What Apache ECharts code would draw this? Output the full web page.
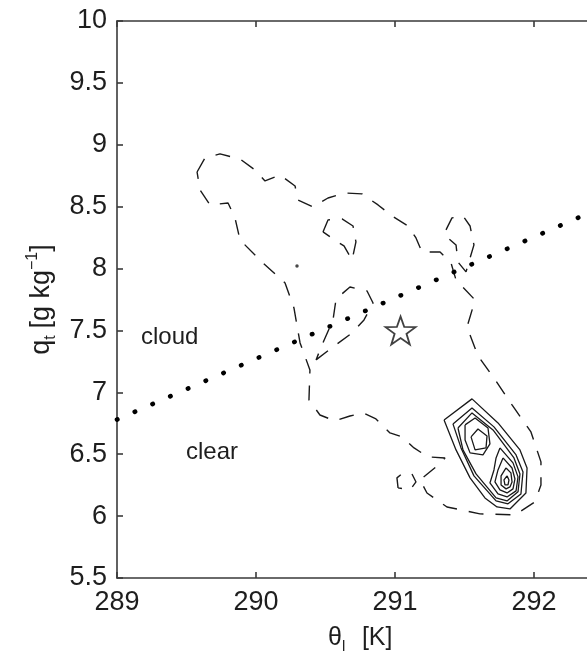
<!DOCTYPE html>
<html><head><meta charset="utf-8">
<script src="https://cdn.jsdelivr.net/npm/echarts@6/dist/echarts.min.js"></script>
<style>html,body{margin:0;padding:0;background:#fff}#c{width:587px;height:654px}</style>
</head><body><div id="c"></div>
<script>
// axis ranges and ticks
const thetaLimits = [289, 292.5];
const qLimits = [5.5, 10];
const thetaTickStep = 1;
const qTickStep = 0.5;

// dotted mixing line (theta_l, q_t)
const mixingLine = [[289.0, 6.78], [292.5, 8.50]];
// star marker
const starPoint = [[291.04, 7.50]];
const strayDot = [[290.295, 8.021]];

// dashed contours
const dashedOuter = [[289.576,8.780],[289.633,8.893],[289.741,8.926],[289.885,8.885],[289.993,8.796],[290.065,8.708],[290.173,8.756],[290.281,8.667],[290.302,8.554],[290.410,8.498],[290.518,8.570],[290.640,8.611],[290.763,8.603],[290.878,8.514],[290.978,8.425],[291.094,8.344],[291.151,8.247],[291.194,8.134],[291.324,8.134],[291.403,8.045],[291.439,7.908],[291.576,7.746],[291.518,7.528],[291.597,7.294],[291.712,7.116],[291.842,6.898],[291.978,6.680],[292.050,6.438],[292.050,6.252],[292.007,6.115],[291.863,6.010],[291.611,6.018],[291.374,6.074],[291.230,6.187],[291.180,6.292],[291.295,6.397],[291.360,6.470],[291.237,6.478],[291.137,6.551],[291.050,6.640],[290.964,6.672],[290.863,6.785],[290.770,6.834],[290.676,6.809],[290.568,6.769],[290.460,6.817],[290.381,6.939],[290.388,7.181],[290.317,7.399],[290.273,7.682],[290.209,7.884],[290.043,8.053],[289.885,8.231],[289.849,8.409],[289.799,8.530],[289.669,8.514],[289.597,8.635],[289.576,8.780]];
const dashedUpperLoop = [[290.482,8.296],[290.518,8.393],[290.619,8.401],[290.698,8.344],[290.719,8.215],[290.691,8.069],[290.633,8.183],[290.576,8.223],[290.482,8.296]];
const dashedRightLobe = [[291.367,8.312],[291.410,8.409],[291.489,8.425],[291.540,8.344],[291.568,8.191],[291.540,8.086],[291.511,7.973],[291.453,8.053],[291.439,8.191],[291.381,8.247],[291.367,8.312]];
const dashedMidLoop = [[290.432,7.262],[290.554,7.367],[290.691,7.480],[290.777,7.585],[290.842,7.722],[290.799,7.819],[290.676,7.851],[290.576,7.754],[290.554,7.585],[290.475,7.383],[290.432,7.262]];
const dashedHook = [[291.022,6.228],[291.014,6.309],[291.058,6.349],[291.122,6.341],[291.151,6.276],[291.108,6.212],[291.022,6.228]];

// solid contours
const solid1 = [[291.353,6.777],[291.554,6.947],[291.741,6.753],[291.899,6.535],[291.950,6.389],[291.942,6.187],[291.827,6.058],[291.734,6.074],[291.647,6.147],[291.540,6.309],[291.439,6.535],[291.353,6.777]];
const solid2 = [[291.417,6.745],[291.554,6.874],[291.712,6.721],[291.871,6.494],[291.921,6.357],[291.906,6.179],[291.813,6.099],[291.727,6.123],[291.568,6.325],[291.475,6.551],[291.417,6.745]];
const solid3 = [[291.453,6.712],[291.554,6.834],[291.705,6.696],[291.856,6.470],[291.899,6.341],[291.885,6.196],[291.806,6.123],[291.727,6.147],[291.583,6.341],[291.489,6.535],[291.453,6.712]];
const solidPeakA1 = [[291.504,6.737],[291.576,6.793],[291.669,6.712],[291.683,6.583],[291.633,6.494],[291.540,6.511],[291.504,6.615],[291.504,6.737]];
const solidPeakA2 = [[291.547,6.640],[291.597,6.704],[291.662,6.648],[291.655,6.551],[291.576,6.535],[291.547,6.640]];
const solidPeakB1 = [[291.755,6.551],[291.849,6.430],[291.885,6.317],[291.871,6.204],[291.806,6.155],[291.741,6.179],[291.683,6.268],[291.712,6.373],[291.727,6.470],[291.755,6.551]];
const solidPeakB2 = [[291.777,6.470],[291.842,6.389],[291.863,6.300],[291.849,6.220],[291.806,6.187],[291.755,6.212],[291.719,6.276],[291.741,6.373],[291.777,6.470]];
const solidPeakB3 = [[291.799,6.389],[291.834,6.349],[291.842,6.276],[291.827,6.236],[291.799,6.220],[291.763,6.252],[291.763,6.325],[291.799,6.389]];
const solidPeakB4 = [[291.806,6.325],[291.820,6.292],[291.813,6.252],[291.791,6.252],[291.784,6.292],[291.806,6.325]];

const FONT = 'Liberation Sans, Arial, Helvetica, sans-serif';
const INK = '#1a1a1a';
const TXT = '#1e1e1e';

function dashed(data) {
  return { type: 'line', data, showSymbol: false, symbol: 'none', silent: true, animation: false,
    lineStyle: { color: INK, width: 1.4, type: [15, 12] } };
}
function solid(data) {
  return { type: 'line', data, showSymbol: false, symbol: 'none', silent: true, animation: false,
    lineStyle: { color: INK, width: 1.3 } };
}

const axisLineStyle = { color: '#3a3a3a', width: 1.6 };
const chart = echarts.init(document.getElementById('c'), null, { renderer: 'canvas' });
chart.setOption({
  animation: false,
  backgroundColor: '#fff',
  grid: { left: 117, top: 21, right: -16.5, bottom: 76, containLabel: false, outerBoundsMode: 'none' },
  xAxis: [
    { type: 'value', position: 'bottom', min: thetaLimits[0], max: thetaLimits[1], interval: thetaTickStep,
      axisLine: { show: true, onZero: false, lineStyle: axisLineStyle },
      axisTick: { show: true, inside: true, length: 6, lineStyle: axisLineStyle },
      axisLabel: { fontSize: 27, fontFamily: FONT, color: TXT, margin: 11,
        formatter: v => (Math.abs(v - Math.round(v)) < 1e-6 ? String(Math.round(v)) : '') },
      splitLine: { show: false },
      name: '{t|θ}{s|l}     {t|[K]}', nameLocation: 'middle', nameGap: 44,
      nameTextStyle: { rich: {
        t: { fontSize: 25, fontFamily: FONT, color: TXT, lineHeight: 32, verticalAlign: 'middle' },
        s: { fontSize: 15, fontFamily: FONT, color: TXT, lineHeight: 15, verticalAlign: 'bottom' } } } },
    { type: 'value', position: 'top', min: thetaLimits[0], max: thetaLimits[1], interval: thetaTickStep,
      axisLine: { show: true, onZero: false, lineStyle: axisLineStyle },
      axisTick: { show: true, inside: true, length: 6, lineStyle: axisLineStyle },
      axisLabel: { show: false }, splitLine: { show: false } }
  ],
  yAxis: [
    { type: 'value', position: 'left', min: qLimits[0], max: qLimits[1], interval: qTickStep,
      axisLine: { show: true, onZero: false, lineStyle: axisLineStyle },
      axisTick: { show: true, inside: true, length: 6, lineStyle: axisLineStyle },
      axisLabel: { fontSize: 27, fontFamily: FONT, color: TXT, margin: 10 },
      splitLine: { show: false },
      name: '{t|q}{s|t}  {t|[g kg}{p|−1}{t|]}', nameLocation: 'middle', nameRotate: 90, nameGap: 54,
      nameTextStyle: { rich: {
        t: { fontSize: 27, fontFamily: FONT, color: TXT, lineHeight: 34, verticalAlign: 'middle' },
        s: { fontSize: 16, fontFamily: FONT, color: TXT, lineHeight: 16, verticalAlign: 'bottom' },
        p: { fontSize: 16, fontFamily: FONT, color: TXT, lineHeight: 16, verticalAlign: 'top' } } } },
    { type: 'value', position: 'right', min: qLimits[0], max: qLimits[1], interval: qTickStep,
      axisLine: { show: true, onZero: false, lineStyle: axisLineStyle },
      axisTick: { show: true, inside: true, length: 6 }, axisLabel: { show: false }, splitLine: { show: false } }
  ],
  series: [
    dashed(dashedOuter), dashed(dashedUpperLoop), dashed(dashedRightLobe), dashed(dashedMidLoop), dashed(dashedHook),
    solid(solid1), solid(solid2), solid(solid3), solid(solidPeakA1), solid(solidPeakA2),
    solid(solidPeakB1), solid(solidPeakB2), solid(solidPeakB3), solid(solidPeakB4),
    { type: 'line', data: mixingLine, showSymbol: false, symbol: 'none', silent: true, animation: false,
      lineStyle: { color: '#000', width: 4.6, type: [0.4, 18.95], cap: 'round' } },
    { type: 'scatter', data: strayDot, symbolSize: 3.5, silent: true, itemStyle: { color: INK } },
    { type: 'scatter', data: starPoint, silent: true, symbolSize: [30, 28],
      symbol: 'path://M50,2 L61.8,36.5 L98,37 L69,59 L79.5,94 L50,73 L20.5,94 L31,59 L2,37 L38.2,36.5 Z',
      itemStyle: { color: '#fff', borderColor: '#111', borderWidth: 1.8 } }
  ],
  graphic: [
    { type: 'text', left: 141, top: 325, silent: true,
      style: { text: 'cloud', fontSize: 24, fontFamily: FONT, fill: TXT } },
    { type: 'text', left: 186, top: 440, silent: true,
      style: { text: 'clear', fontSize: 24, fontFamily: FONT, fill: TXT } }
  ]
});
</script></body></html>
